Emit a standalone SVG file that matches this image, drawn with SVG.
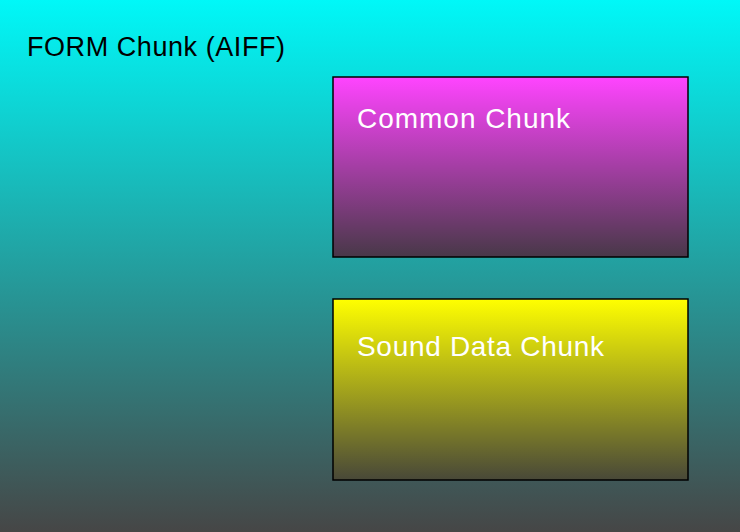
<svg xmlns="http://www.w3.org/2000/svg" width="740" height="532" viewBox="0 0 740 532">
<defs>
<linearGradient id="bg" x1="0" y1="0" x2="0" y2="1"><stop offset="0" stop-color="#00F8F8"/><stop offset="1" stop-color="#464646"/></linearGradient>
<linearGradient id="mg" x1="0" y1="0" x2="0" y2="1"><stop offset="0" stop-color="#FF44FF"/><stop offset="1" stop-color="#483848"/></linearGradient>
<linearGradient id="yg" x1="0" y1="0" x2="0" y2="1"><stop offset="0" stop-color="#FFFF00"/><stop offset="1" stop-color="#484838"/></linearGradient>
</defs>
<style>.b{stroke:#000;stroke-width:1.5}.t{font-family:"Liberation Sans",Arial,sans-serif;font-size:27px}.w{font-size:28px}</style>
<rect width="740" height="532" fill="url(#bg)"/>
<g id="form"><text class="t" x="27" y="56" fill="#000" textLength="258">FORM Chunk (AIFF)</text></g>
<g id="common"><rect class="b" x="333" y="77" width="355" height="180" fill="url(#mg)"/><text class="t w" x="357" y="128" fill="#fff" textLength="213">Common Chunk</text></g>
<g id="sound"><rect class="b" x="333" y="299" width="355" height="181" fill="url(#yg)"/><text class="t w" x="357" y="356" fill="#fff" textLength="247">Sound Data Chunk</text></g>
<g id="connectors"/>
</svg>
